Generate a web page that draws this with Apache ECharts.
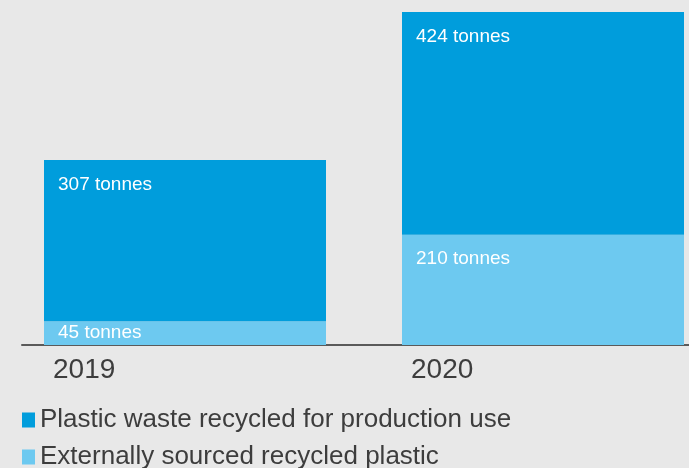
<!DOCTYPE html>
<html>
<head>
<meta charset="utf-8">
<script src="https://cdn.jsdelivr.net/npm/echarts@6/dist/echarts.min.js"></script>
<style>
html,body{margin:0;padding:0;background:#e8e8e8;}
#chart{width:689px;height:468px;}
</style>
</head>
<body>
<div id="chart"></div>
<script>
var years = ['2019', '2020'];
var externalPlastic = [45, 210];
var wasteRecycled = [307, 424];
var seriesNames = ['Plastic waste recycled for production use', 'Externally sourced recycled plastic'];
var unit = ' tonnes';

var darkBlue = '#009ddc';
var lightBlue = '#6dc9f0';
var totals = years.map(function (_, i) { return externalPlastic[i] + wasteRecycled[i]; });
var yMax = Math.max.apply(null, totals);

var topLabel = {
  show: true, position: [14, 15], align: 'left', verticalAlign: 'top',
  color: '#ffffff', fontSize: 19, lineHeight: 19, fontFamily: 'Liberation Sans',
  formatter: function (p) { return p.value + unit; }
};

var chart = echarts.init(document.getElementById('chart'), null, {renderer: 'canvas'});
chart.setOption({
  backgroundColor: '#e8e8e8',
  animation: false,
  grid: [
    {left: 6, width: 716, top: 12, bottom: 123, containLabel: false, outerBoundsMode: 'none'},
    {left: 22, right: 0, top: 12, bottom: 123, containLabel: false, outerBoundsMode: 'none'}
  ],
  xAxis: [
    {
      type: 'category', data: years, gridIndex: 0,
      axisLine: {show: false}, axisTick: {show: false},
      axisLabel: {
        margin: 11,
        formatter: function (v) { return '{y|' + v + '}'; },
        rich: {y: {width: 273, align: 'left', padding: [0, 0, 0, 9], fontSize: 28, color: '#3d3d3d', fontFamily: 'Liberation Sans'}}
      }
    },
    {
      type: 'category', data: years, gridIndex: 1,
      axisLine: {show: true, lineStyle: {color: '#5a5a5a', width: 2}},
      axisTick: {show: false}, axisLabel: {show: false}
    }
  ],
  yAxis: [
    {type: 'value', gridIndex: 0, min: 0, max: yMax, show: false},
    {type: 'value', gridIndex: 1, min: 0, max: yMax, show: false}
  ],
  legend: {
    orient: 'vertical', left: 22, top: 407, height: 90, padding: 0,
    data: seriesNames,
    icon: 'rect', itemWidth: 13, itemHeight: 15, itemGap: 11,
    textStyle: {fontSize: 26, lineHeight: 26, color: '#3d3d3d', fontFamily: 'Liberation Sans'}
  },
  series: [
    {
      name: seriesNames[1], type: 'bar', stack: 'total', barWidth: 282,
      itemStyle: {color: lightBlue},
      label: topLabel,
      data: externalPlastic.map(function (v) {
        return v < yMax * 0.1
          ? {value: v, label: {position: 'insideLeft', distance: 14, verticalAlign: 'middle'}}
          : v;
      })
    },
    {
      name: seriesNames[0], type: 'bar', stack: 'total', barWidth: 282,
      itemStyle: {color: darkBlue},
      label: topLabel,
      data: wasteRecycled
    }
  ]
});
</script>
</body>
</html>
